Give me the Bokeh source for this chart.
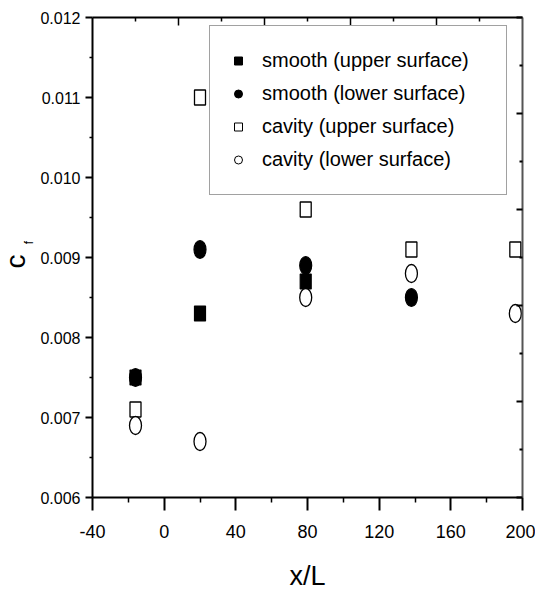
import math
from bokeh.plotting import figure
from bokeh.layouts import row
from bokeh.models import (Range1d, FixedTicker, LinearAxis, PrintfTickFormatter,
                          Legend, LegendItem)
from bokeh.core.properties import value
from bokeh.embed import file_html
from bokeh.resources import INLINE

# ---------------- data ----------------
series_labels = ["smooth (upper surface)", "smooth (lower surface)",
                 "cavity (upper surface)", "cavity (lower surface)"]

smooth_upper_x = [-16, 20, 79]
smooth_upper_cf = [0.0075, 0.0083, 0.0087]

smooth_lower_x = [-16, 20, 79, 138]
smooth_lower_cf = [0.0075, 0.0091, 0.0089, 0.0085]

cavity_upper_x = [-16, 20, 79, 138, 196]
cavity_upper_cf = [0.0071, 0.0110, 0.0096, 0.0091, 0.0091]

cavity_lower_x = [-16, 20, 79, 138, 196]
cavity_lower_cf = [0.0069, 0.0067, 0.0085, 0.0088, 0.0083]

x_ticks = [-40, 0, 40, 80, 120, 160, 200]
x_minor = [-20, 20, 60, 100, 140, 180]
y_ticks = [0.006, 0.007, 0.008, 0.009, 0.010, 0.011, 0.012]
y_minor = [0.0065, 0.0075, 0.0085, 0.0095, 0.0105, 0.0115]
top_ticks = [8, 56, 104, 152]
top_minor = [-16, 32, 80, 128, 176]
right_ticks = [0.0060, 0.0072, 0.0084, 0.0096, 0.0108, 0.0120]
right_minor = [0.0066, 0.0078, 0.0090, 0.0102, 0.0114]

y_title_main = "c"
y_title_sub = "f"

FONT = "Liberation Sans"
W_LAB = 36
H = 597
B_TOP = 17
B_BOTTOM = 100
FRAME_H = H - B_TOP - B_BOTTOM

# ---------------- side strip holding the y title c_f ----------------
lab = figure(width=W_LAB, height=H, x_range=Range1d(0, W_LAB), y_range=Range1d(0, FRAME_H),
             output_backend="svg", toolbar_location=None,
             x_axis_location=None, y_axis_location=None,
             min_border_left=0, min_border_right=0,
             min_border_top=B_TOP, min_border_bottom=B_BOTTOM)
lab.grid.visible = False
lab.outline_line_color = None
lab.background_fill_color = "white"
lab.border_fill_color = "white"
# positions measured in pixels of the strip's frame (bottom = 0)
lab.text(x=[14.5], y=[(H - B_BOTTOM) - 261], text=[y_title_main], angle=math.pi / 2,
         text_font=value(FONT), text_font_size="28px", text_color="black",
         text_align="center", text_baseline="middle")
lab.text(x=[28], y=[(H - B_BOTTOM) - 242], text=[y_title_sub], angle=math.pi / 2,
         text_font=value(FONT), text_font_size="12px", text_color="black",
         text_align="center", text_baseline="middle")

# ---------------- main figure ----------------
p = figure(width=535 - W_LAB, height=H, x_range=Range1d(-40, 200), y_range=Range1d(0.006, 0.012),
           output_backend="svg", toolbar_location=None,
           min_border_left=92 - W_LAB, min_border_right=13,
           min_border_top=B_TOP, min_border_bottom=B_BOTTOM)
p.grid.visible = False
p.outline_line_color = None
p.background_fill_color = "white"
p.border_fill_color = "white"

xa = p.xaxis[0]
xa.ticker = FixedTicker(ticks=x_ticks, minor_ticks=x_minor)
xa.formatter = PrintfTickFormatter(format="%d")
xa.axis_label = "x/L"
xa.axis_label_text_font = FONT
xa.axis_label_text_font_size = "27px"
xa.axis_label_text_font_style = "normal"
xa.axis_label_text_color = "black"
xa.axis_label_standoff = 20
xa.major_label_text_font = FONT
xa.major_label_text_font_size = "18px"
xa.major_label_text_color = "black"
xa.major_label_standoff = 14
xa.major_tick_out = 13
xa.major_tick_in = 0
xa.minor_tick_out = 5
xa.minor_tick_in = 0
xa.axis_line_width = 2
xa.major_tick_line_width = 2
xa.minor_tick_line_width = 1.5

ya = p.yaxis[0]
ya.ticker = FixedTicker(ticks=y_ticks, minor_ticks=y_minor)
ya.formatter = PrintfTickFormatter(format="%.3f")
ya.major_label_text_font = FONT
ya.major_label_text_font_size = "16px"
ya.major_label_text_color = "black"
ya.major_label_standoff = 5
ya.major_tick_out = 7
ya.major_tick_in = 0
ya.minor_tick_out = 3
ya.minor_tick_in = 0
ya.axis_line_width = 2
ya.major_tick_line_width = 2
ya.minor_tick_line_width = 1.5

top = LinearAxis(ticker=FixedTicker(ticks=top_ticks, minor_ticks=top_minor),
                 major_tick_in=8, major_tick_out=0, minor_tick_in=4, minor_tick_out=0,
                 major_label_text_font_size="1px", major_label_text_color=None,
                 major_label_standoff=0, axis_line_width=2,
                 major_tick_line_width=1.5, minor_tick_line_width=1.5)
p.add_layout(top, "above")

right = LinearAxis(ticker=FixedTicker(ticks=right_ticks, minor_ticks=right_minor),
                   major_tick_in=6, major_tick_out=0, minor_tick_in=3, minor_tick_out=0,
                   major_label_text_font_size="1px", major_label_text_color=None,
                   major_label_standoff=0, axis_line_width=2,
                   axis_line_color="#555555",
                   major_tick_line_width=2, minor_tick_line_width=2)
p.add_layout(right, "right")

# legend-sized markers (covered by the stretched data marks below)
r_su = p.scatter(x=smooth_upper_x, y=smooth_upper_cf, marker="square", size=8,
                 fill_color="black", line_color="black", line_width=1)
r_sl = p.scatter(x=smooth_lower_x, y=smooth_lower_cf, marker="circle", size=8,
                 fill_color="black", line_color="black", line_width=1)
r_cu = p.scatter(x=cavity_upper_x, y=cavity_upper_cf, marker="square", size=8,
                 fill_color="white", line_color="black", line_width=1)
r_cl = p.scatter(x=cavity_lower_x, y=cavity_lower_cf, marker="circle", size=8,
                 fill_color="white", line_color="black", line_width=1)

# data marks (slightly taller than wide, like the reference)
p.rect(x=smooth_upper_x, y=smooth_upper_cf, width=11, height=15,
       width_units="screen", height_units="screen",
       fill_color="black", line_color="black", line_width=1.2)
p.ellipse(x=smooth_lower_x, y=smooth_lower_cf, width=12, height=18,
          width_units="screen", height_units="screen",
          fill_color="black", line_color="black", line_width=1.2)
p.rect(x=cavity_upper_x, y=cavity_upper_cf, width=11, height=15,
       width_units="screen", height_units="screen",
       fill_color="white", line_color="black", line_width=1.3)
p.ellipse(x=cavity_lower_x, y=cavity_lower_cf, width=12, height=18,
          width_units="screen", height_units="screen",
          fill_color="white", line_color="black", line_width=1.3)

items = [LegendItem(label=lab_txt, renderers=[r])
         for lab_txt, r in zip(series_labels, [r_su, r_sl, r_cu, r_cl])]
legend = Legend(items=items, location=(117, 302), padding=18, spacing=0, margin=0,
                glyph_width=20, glyph_height=33, label_height=33, label_width=226,
                label_standoff=14, label_text_font=FONT, label_text_font_size="20px",
                label_text_color="black",
                border_line_color="#444444", border_line_width=1,
                background_fill_color="white", background_fill_alpha=1.0)
p.add_layout(legend)

layout = row(lab, p, spacing=0)
open("out.html", "w").write(file_html(layout, INLINE))
